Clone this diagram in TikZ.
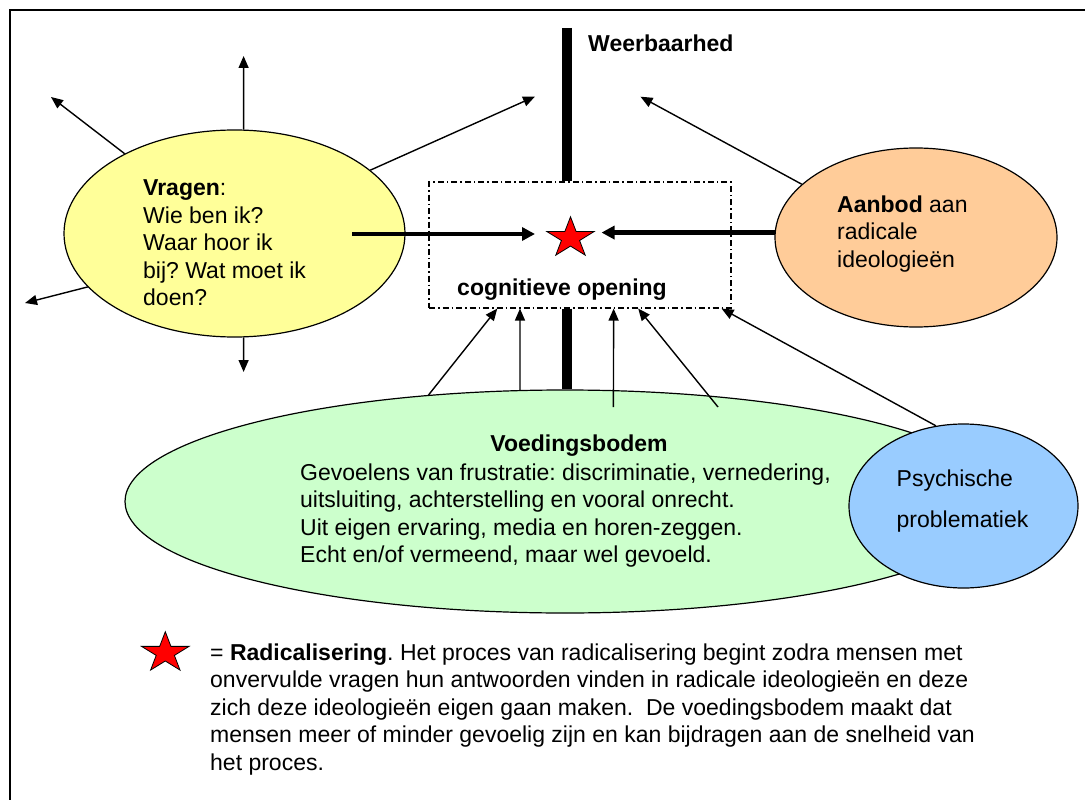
\documentclass[tikz,border=0pt]{standalone}
\usepackage{fontspec}
\setmainfont{Liberation Sans}
\usetikzlibrary{shapes.geometric,arrows.meta,calc}
\frenchspacing

\definecolor{geel}{HTML}{FFFF99}
\definecolor{oranje}{HTML}{FFCC99}
\definecolor{groen}{HTML}{CCFFCC}
\definecolor{blauw}{HTML}{99CCFF}

\tikzset{
	wolk/.style={ellipse, draw, line width=1.2pt, inner sep=0pt},
	pijl/.style={line width=1.4pt, -{Triangle[length=12pt,width=10pt]}},
	dikpijl/.style={line width=4.5pt, -{Triangle[length=13pt,width=13pt]}},
	ster/.style={star, star points=5, star point ratio=2.618, draw=black, fill=red,
		line width=0.8pt, minimum size=42.4pt, inner sep=0pt, xscale=1.18},
	tekst/.style={font=\fontsize{23}{27.5}\selectfont, inner sep=0pt, align=left},
	kop/.style={font=\fontsize{23}{27.5}\selectfont\bfseries, inner sep=0pt}
}

\begin{document}
\begin{tikzpicture}[x=1pt,y=-1pt]
\useasboundingbox (0,0) rectangle (1085,800);

% kader
	\draw[line width=2pt] (10,800) -- (10,10) -- (1085,10);

% ellipsen
	\node[wolk, fill=groen, minimum width=880pt, minimum height=223pt] (bodem) at (565,501.5) {};
	\node[wolk, fill=blauw, minimum width=229pt, minimum height=164pt] (psych) at (963.5,506) {};
	\node[wolk, fill=geel, minimum width=341pt, minimum height=207pt] (vragen) at (234.5,233.5) {};
	\node[wolk, fill=oranje, minimum width=282pt, minimum height=179pt] (aanbod) at (916,237.5) {};

% cognitieve opening
	\node[draw, line width=1.1pt, dash pattern=on 6pt off 3pt on 1.5pt off 3pt,
		minimum width=302pt, minimum height=126pt, inner sep=0pt] (cog) at (580,245) {};
	\node[ster] (ster) at (570.5,238) {};
	\node[kop, anchor=base] (cogtekst) at (562,295) {cognitieve opening};

% weerbaarheid
	\coordinate (wtop) at (567,28);
	\draw[line width=10pt] (wtop) -- (wtop |- cog.north);
	\draw[line width=10pt] (wtop |- cog.south) -- (wtop |- bodem.north);
	\node[kop, anchor=base west] (weer) at (588,52) {Weerbaarhed};

% teksten
	\node[tekst, anchor=north west] (vragentekst) at (143,179.5)
		{\textbf{Vragen}:\\Wie ben ik?\\Waar hoor ik\\bij? Wat moet ik\\doen?};
	\node[tekst, anchor=north west] (aanbodtekst) at (837,195.5)
		{\textbf{Aanbod} aan\\radicale\\ideologieën};
	\node[kop, anchor=base] (bodemkop) at (579,451) {Voedingsbodem};
	\node[tekst, anchor=north west] (bodemtekst) at (300,463.2)
		{Gevoelens van frustratie: discriminatie, vernedering,\\uitsluiting, achterstelling en vooral onrecht.\\Uit eigen ervaring, media en horen-zeggen.\\Echt en/of vermeend, maar wel gevoeld.};
	\node[tekst, font=\fontsize{23}{41}\selectfont, anchor=north west] (psychtekst) at (896.5,469.5)
		{Psychische\\problematiek};

% pijlen uit Vragen
	\coordinate (vB) at (243.6,56);
	\coordinate (vLB) at (51,97);
	\coordinate (vLO) at (25,303);
	\coordinate (vO) at (243.6,372);
	\coordinate (vRB) at (535,96.5);
	\foreach \hoek/\doel in {85/vB, 144/vLB, 200/vLO, 275/vO, 25/vRB}
		\draw[pijl] (vragen.\hoek) -- (\doel);

% dikke pijlen naar de ster
	\coordinate (vIn) at (352,234);
	\draw[dikpijl, shorten >=35.5pt] (vIn) -- (vIn -| ster.center);
	\draw[dikpijl, shorten >=31pt] (aanbod.178) -- (aanbod.178 -| ster.center);
	\coordinate (aB) at (640.5,96.7);
	\draw[pijl] (aanbod.155) -- (aB);

% pijlen naar de cognitieve opening
	\coordinate (g3) at (613.4,407);
	\coordinate (g4) at (718,407);
	\foreach \van/\f in {bodem.142/0.227, bodem.112/0.302, g3/0.611, g4/0.692, psych.109/0.967}
		\draw[pijl] (\van) -- ($(cog.south west)!\f!(cog.south east)$);

% legenda
	\node[ster] (legster) at (165.3,652.9) {};
	\node[tekst, anchor=north west] (uitleg) at (210,643.5)
		{= \textbf{Radicalisering}. Het proces van radicalisering begint zodra mensen met\\onvervulde vragen hun antwoorden vinden in radicale ideologieën en deze\\zich deze ideologieën eigen gaan maken.~ De voedingsbodem maakt dat\\mensen meer of minder gevoelig zijn en kan bijdragen aan de snelheid van\\het proces.};
\end{tikzpicture}
\end{document}
